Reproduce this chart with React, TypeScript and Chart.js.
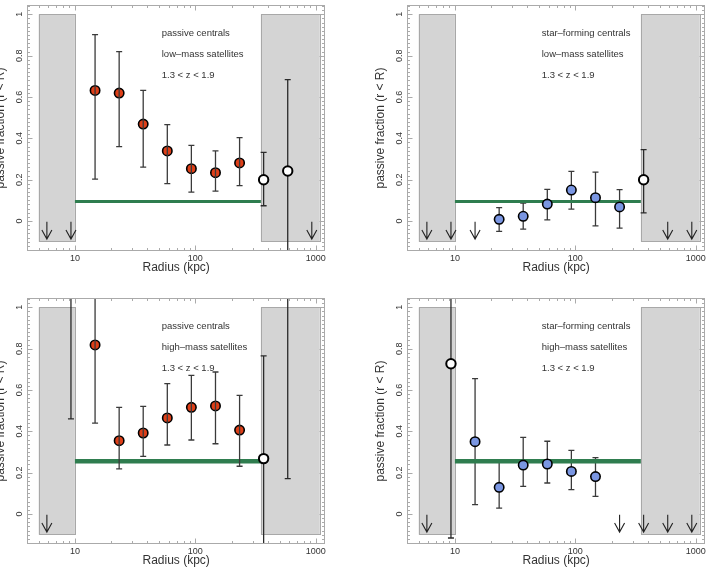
import React, { useEffect, useRef } from "react";
import { Chart, registerables } from "chart.js";
Chart.register(...registerables);

// ---- shared axis data ----
const xTickValues = [10, 100, 1000];
const xTickLabels = ["10", "100", "1000"];
const yTickValues = [0, 0.2, 0.4, 0.6, 0.8, 1];
const yTickLabels = ["0", "0.2", "0.4", "0.6", "0.8", "1"];
const xMin = 4;
const xMax = 1200;
const yMin = -0.145;
const yMax = 1.045;
const xTitle = "Radius (kpc)";
const yTitle = "passive fraction (r < R)";
const excludedLeft = [5, 10];
const excludedRight = [350, 1080];
const excludedY = [-0.1, 1.0];
const labelLineY = [0.908, 0.807, 0.706];
const labelX = 52.6;

// ---- panel 1: passive centrals, low-mass satellites ----
const p1Text = ["passive centrals", "low\u2013mass satellites", "1.3 < z < 1.9"];
const p1FilledX = [14.7, 23.3, 36.9, 58.5, 92.7, 147, 233];
const p1FilledY = [0.632, 0.619, 0.469, 0.339, 0.253, 0.234, 0.281];
const p1FilledHi = [0.902, 0.819, 0.632, 0.466, 0.366, 0.339, 0.403];
const p1FilledLo = [0.203, 0.36, 0.261, 0.181, 0.14, 0.145, 0.171];
const p1OpenX = [369, 585];
const p1OpenY = [0.2, 0.242];
const p1OpenHi = [0.332, 0.684];
const p1OpenLo = [0.074, -0.3];
const p1Arrows = [5.85, 9.27, 927];
const p1Level = 0.095;

// ---- panel 2: star-forming centrals, low-mass satellites ----
const p2Text = ["star\u2013forming centrals", "low\u2013mass satellites", "1.3 < z < 1.9"];
const p2FilledX = [23.3, 36.9, 58.5, 92.7, 147, 233];
const p2FilledY = [0.008, 0.023, 0.082, 0.15, 0.113, 0.068];
const p2FilledHi = [0.065, 0.087, 0.153, 0.24, 0.237, 0.152];
const p2FilledLo = [-0.05, -0.039, 0.006, 0.058, -0.023, -0.034];
const p2OpenX = [369];
const p2OpenY = [0.2];
const p2OpenHi = [0.345];
const p2OpenLo = [0.039];
const p2Arrows = [5.85, 9.27, 14.7, 585, 927];
const p2Level = 0.095;

// ---- panel 3: passive centrals, high-mass satellites ----
const p3Text = ["passive centrals", "high\u2013mass satellites", "1.3 < z < 1.9"];
const p3FilledX = [14.7, 23.3, 36.9, 58.5, 92.7, 147, 233];
const p3FilledY = [0.818, 0.355, 0.392, 0.465, 0.516, 0.523, 0.406];
const p3FilledHi = [1.3, 0.516, 0.521, 0.631, 0.671, 0.687, 0.574];
const p3FilledLo = [0.44, 0.218, 0.279, 0.334, 0.358, 0.34, 0.231];
const p3OpenX = [9.27, 369, 585];
const p3OpenY = [1.2, 0.268, 1.2];
const p3OpenHi = [1.5, 0.765, 1.5];
const p3OpenLo = [0.46, -0.3, 0.171];
const p3Arrows = [5.85];
const p3Level = 0.255;

// ---- panel 4: star-forming centrals, high-mass satellites ----
const p4Text = ["star\u2013forming centrals", "high\u2013mass satellites", "1.3 < z < 1.9"];
const p4FilledX = [14.7, 23.3, 36.9, 58.5, 92.7, 147];
const p4FilledY = [0.35, 0.129, 0.237, 0.242, 0.206, 0.181];
const p4FilledHi = [0.655, 0.252, 0.371, 0.352, 0.308, 0.273];
const p4FilledLo = [0.045, 0.029, 0.134, 0.15, 0.118, 0.085];
const p4OpenX = [9.27];
const p4OpenY = [0.727];
const p4OpenHi = [1.3];
const p4OpenLo = [-0.116];
const p4Arrows = [5.85, 233, 369, 585, 927];
const p4Level = 0.255;

const ORANGE = "#de3f18";
const BLUE = "#7a96e2";
const GREEN = "#2f7d4f";
const FONT = "'Liberation Sans', Arial, Helvetica, sans-serif";

type PanelCfg = {
  text: string[];
  fx: number[]; fy: number[]; fhi: number[]; flo: number[];
  ox: number[]; oy: number[]; ohi: number[]; olo: number[];
  arrows: number[];
  level: number;
  levelWidth: number;
  fill: string;
  barsOnTop: boolean;
};

const panels: { cfg: PanelCfg; left: number; top: number }[] = [
  { left: -24, top: -8, cfg: { text: p1Text, fx: p1FilledX, fy: p1FilledY, fhi: p1FilledHi, flo: p1FilledLo, ox: p1OpenX, oy: p1OpenY, ohi: p1OpenHi, olo: p1OpenLo, arrows: p1Arrows, level: p1Level, levelWidth: 3, fill: ORANGE, barsOnTop: true } },
  { left: 356, top: -8, cfg: { text: p2Text, fx: p2FilledX, fy: p2FilledY, fhi: p2FilledHi, flo: p2FilledLo, ox: p2OpenX, oy: p2OpenY, ohi: p2OpenHi, olo: p2OpenLo, arrows: p2Arrows, level: p2Level, levelWidth: 3, fill: BLUE, barsOnTop: false } },
  { left: -24, top: 285, cfg: { text: p3Text, fx: p3FilledX, fy: p3FilledY, fhi: p3FilledHi, flo: p3FilledLo, ox: p3OpenX, oy: p3OpenY, ohi: p3OpenHi, olo: p3OpenLo, arrows: p3Arrows, level: p3Level, levelWidth: 4.5, fill: ORANGE, barsOnTop: true } },
  { left: 356, top: 285, cfg: { text: p4Text, fx: p4FilledX, fy: p4FilledY, fhi: p4FilledHi, flo: p4FilledLo, ox: p4OpenX, oy: p4OpenY, ohi: p4OpenHi, olo: p4OpenLo, arrows: p4Arrows, level: p4Level, levelWidth: 4.5, fill: BLUE, barsOnTop: false } },
];

function makePlugin(cfg: PanelCfg) {
  const drawBars = (chart: any, xs: number[], hi: number[], lo: number[], color: string) => {
    const ctx = chart.ctx;
    const sx = chart.scales.x;
    const sy = chart.scales.y;
    const ca = chart.chartArea;
    ctx.save();
    ctx.beginPath();
    ctx.rect(ca.left, ca.top, ca.right - ca.left, ca.bottom - ca.top);
    ctx.clip();
    ctx.strokeStyle = color;
    ctx.lineWidth = 1.3;
    for (let i = 0; i < xs.length; i++) {
      const px = sx.getPixelForValue(xs[i]);
      const pt = sy.getPixelForValue(hi[i]);
      const pb = sy.getPixelForValue(lo[i]);
      ctx.beginPath();
      ctx.moveTo(px, pt);
      ctx.lineTo(px, pb);
      ctx.moveTo(px - 3, pt);
      ctx.lineTo(px + 3, pt);
      ctx.moveTo(px - 3, pb);
      ctx.lineTo(px + 3, pb);
      ctx.stroke();
    }
    ctx.restore();
  };
  return {
    id: "panelDecor",
    beforeDatasetsDraw(chart: any) {
      const ctx = chart.ctx;
      const sx = chart.scales.x;
      const sy = chart.scales.y;
      ctx.save();
      ctx.fillStyle = "#d4d4d4";
      ctx.strokeStyle = "#a8a8a8";
      ctx.lineWidth = 1;
      for (const r of [excludedLeft, excludedRight]) {
        const x0 = sx.getPixelForValue(r[0]);
        const x1 = sx.getPixelForValue(r[1]);
        const y0 = sy.getPixelForValue(excludedY[1]);
        const y1 = sy.getPixelForValue(excludedY[0]);
        ctx.fillRect(x0, y0, x1 - x0, y1 - y0);
        ctx.strokeRect(Math.round(x0) + 0.5, Math.round(y0) + 0.5, Math.round(x1 - x0), Math.round(y1 - y0));
      }
      ctx.restore();
      drawBars(chart, cfg.ox, cfg.ohi, cfg.olo, "#2a2a2a");
      if (!cfg.barsOnTop) drawBars(chart, cfg.fx, cfg.fhi, cfg.flo, "#3a3a3a");
    },
    afterDatasetsDraw(chart: any) {
      if (cfg.barsOnTop) drawBars(chart, cfg.fx, cfg.fhi, cfg.flo, "#3a3a3a");
      const ctx = chart.ctx;
      const sx = chart.scales.x;
      const sy = chart.scales.y;
      // arrows (upper limits)
      ctx.save();
      ctx.strokeStyle = "#222";
      ctx.lineWidth = 1.1;
      for (const a of cfg.arrows) {
        const px = sx.getPixelForValue(a);
        const pt = sy.getPixelForValue(-0.003);
        const pb = sy.getPixelForValue(-0.087);
        ctx.beginPath();
        ctx.moveTo(px, pt);
        ctx.lineTo(px, pb);
        ctx.moveTo(px - 5, pb - 9);
        ctx.lineTo(px, pb);
        ctx.lineTo(px + 5, pb - 9);
        ctx.stroke();
      }
      ctx.restore();
      // annotation text
      ctx.save();
      ctx.fillStyle = "#333";
      ctx.font = `9.5px ${FONT}`;
      ctx.textAlign = "left";
      ctx.textBaseline = "middle";
      const tx = sx.getPixelForValue(labelX);
      cfg.text.forEach((t, i) => ctx.fillText(t, tx, sy.getPixelForValue(labelLineY[i])));
      ctx.restore();
    },
    afterDraw(chart: any) {
      const ctx = chart.ctx;
      const sx = chart.scales.x;
      const sy = chart.scales.y;
      const ca = chart.chartArea;
      ctx.save();
      ctx.strokeStyle = "#aaa";
      ctx.lineWidth = 1;
      const L = Math.round(ca.left) + 0.5;
      const R = Math.round(ca.right) - 0.5;
      const T = Math.round(ca.top) + 0.5;
      const B = Math.round(ca.bottom) - 0.5;
      ctx.strokeRect(L, T, R - L, B - T);
      ctx.beginPath();
      // x ticks (log): majors and minors
      for (let d = 1; d <= 1000; d *= 10) {
        for (let m = 1; m <= 9; m++) {
          const v = d * m;
          if (v < xMin || v > xMax) continue;
          const px = Math.round(sx.getPixelForValue(v)) + 0.5;
          const len = m === 1 ? 5 : 2.5;
          ctx.moveTo(px, B);
          ctx.lineTo(px, B - len);
          ctx.moveTo(px, T);
          ctx.lineTo(px, T + len);
        }
      }
      // y ticks
      for (let k = -7; k <= 52; k++) {
        const v = k * 0.02;
        if (v < yMin || v > yMax) continue;
        const py = Math.round(sy.getPixelForValue(v)) + 0.5;
        const len = k % 10 === 0 ? 5 : 2.5;
        ctx.moveTo(L, py);
        ctx.lineTo(L + len, py);
        ctx.moveTo(R, py);
        ctx.lineTo(R - len, py);
      }
      ctx.stroke();
      ctx.restore();

      // tick labels
      ctx.save();
      ctx.fillStyle = "#333";
      ctx.font = `9px ${FONT}`;
      ctx.textAlign = "center";
      ctx.textBaseline = "top";
      xTickValues.forEach((v, i) => ctx.fillText(xTickLabels[i], sx.getPixelForValue(v), ca.bottom + 3));
      yTickValues.forEach((v, i) => {
        ctx.save();
        ctx.translate(ca.left - 7.5, sy.getPixelForValue(v));
        ctx.rotate(-Math.PI / 2);
        ctx.textBaseline = "middle";
        ctx.fillText(yTickLabels[i], 0, 0);
        ctx.restore();
      });
      // axis titles
      ctx.font = `12px ${FONT}`;
      ctx.textBaseline = "middle";
      ctx.fillText(xTitle, (ca.left + ca.right) / 2, ca.bottom + 16.5);
      ctx.translate(ca.left - 26, (ca.top + ca.bottom) / 2);
      ctx.rotate(-Math.PI / 2);
      ctx.fillText(yTitle, 0, 0);
      ctx.restore();
    },
  };
}

function Panel({ cfg, left, top }: { cfg: PanelCfg; left: number; top: number }) {
  const ref = useRef<HTMLCanvasElement>(null);
  useEffect(() => {
    if (!ref.current) return;
    const filled = cfg.fx.map((x, i) => ({ x, y: cfg.fy[i] }));
    const open = cfg.ox.map((x, i) => ({ x, y: cfg.oy[i] }));
    const chart = new Chart(ref.current, {
      type: "scatter",
      data: {
        datasets: [
          {
            type: "line",
            data: [{ x: excludedLeft[1], y: cfg.level }, { x: excludedRight[0], y: cfg.level }],
            borderColor: GREEN,
            borderWidth: cfg.levelWidth,
            pointRadius: 0,
            order: 3,
          } as any,
          {
            data: filled,
            backgroundColor: cfg.fill,
            borderColor: "#000",
            borderWidth: 1.6,
            pointRadius: 4.7,
            order: 1,
          },
          {
            data: open,
            backgroundColor: "#fff",
            borderColor: "#000",
            borderWidth: 2,
            pointRadius: 4.7,
            order: 1,
          },
        ],
      },
      options: {
        responsive: false,
        animation: false,
        events: [],
        layout: { padding: { left: 51, right: 2, top: 13, bottom: 34 } },
        plugins: { legend: { display: false }, tooltip: { enabled: false } },
        scales: {
          x: { type: "logarithmic", min: xMin, max: xMax, display: false },
          y: { type: "linear", min: yMin, max: yMax, display: false },
        },
      },
      plugins: [makePlugin(cfg)],
    });
    return () => chart.destroy();
  }, []);
  return (
    <canvas
      ref={ref}
      width={356}
      height={293}
      style={{ position: "absolute", left, top, width: 356, height: 293 }}
    />
  );
}

export default function App() {
  return (
    <div
      style={{
        position: "fixed",
        left: 0,
        top: 0,
        width: 713,
        height: 569,
        overflow: "hidden",
        background: "#fff",
      }}
    >
      {panels.map((p, i) => (
        <Panel key={i} cfg={p.cfg} left={p.left} top={p.top} />
      ))}
    </div>
  );
}
